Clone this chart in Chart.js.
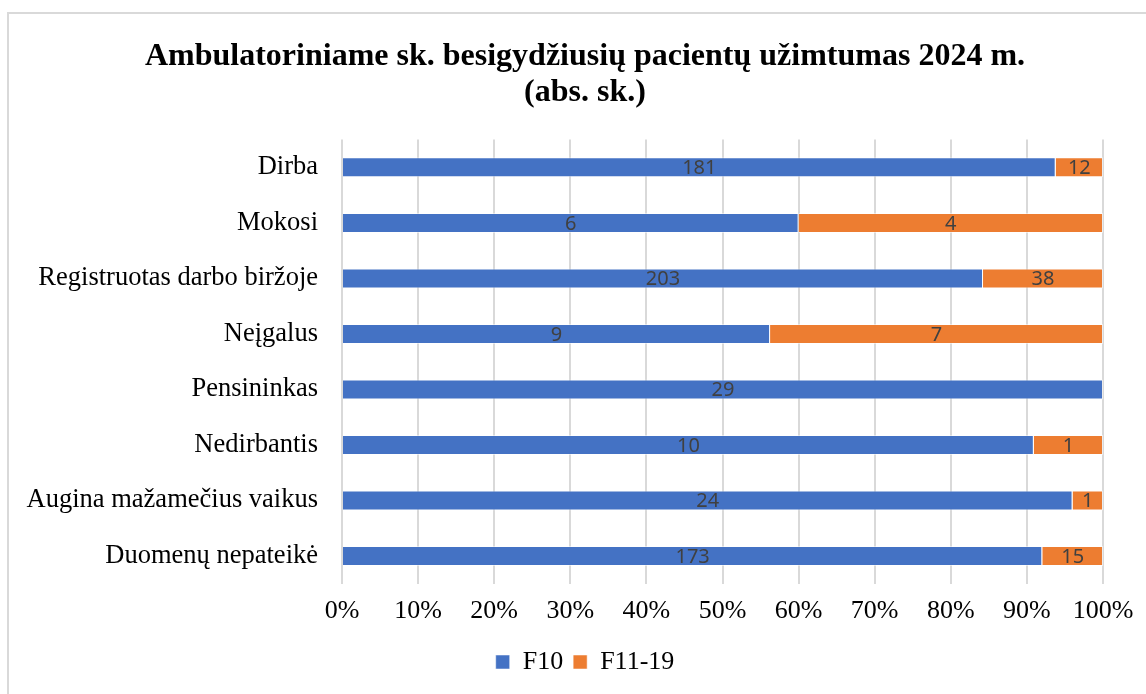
<!DOCTYPE html>
<html lang="lt">
<head>
<meta charset="utf-8">
<title>Ambulatoriniame sk. besigydžiusių pacientų užimtumas 2024 m.</title>
<script src="https://cdn.jsdelivr.net/npm/chart.js@4/dist/chart.umd.min.js"></script>
<style>
    html, body { margin: 0; padding: 0; background: #fff; overflow: hidden; }
    #frame {
        position: absolute; left: 7px; top: 12px; width: 1300px; height: 900px;
        border-left: 2px solid #d9d9d9; border-top: 2px solid #d9d9d9;
    }
    #wrap { position: absolute; left: 0; top: 0; width: 1170px; height: 694px; }
</style>
</head>
<body>
<div id="frame"></div>
<div id="wrap"><canvas id="uzimtumasChart"></canvas></div>
<script>
// Užimtumo grupės ir pacientų skaičiai pagal diagnozių grupes
const categories = [
    'Dirba', 'Mokosi', 'Registruotas darbo biržoje', 'Neįgalus',
    'Pensininkas', 'Nedirbantis', 'Augina mažamečius vaikus', 'Duomenų nepateikė'
];
const f10 = [181, 6, 203, 9, 29, 10, 24, 173];
const f1119 = [12, 4, 38, 7, 0, 1, 1, 15];
const xTicks = [0, 10, 20, 30, 40, 50, 60, 70, 80, 90, 100];

// 100 % sukrautai juostai – kiekvienos grupės dalis eilutėje
const totals = f10.map((v, i) => v + f1119[i]);
const share = arr => arr.map((v, i) => v / totals[i] * 100);

const serif = '"Liberation Serif", "Times New Roman", serif';

// Skaičiai juostų viduryje (absoliutūs)
const barLabels = {
    id: 'barLabels',
    afterDatasetsDraw(chart) {
        const ctx = chart.ctx;
        ctx.save();
        ctx.font = '20px "Noto Sans", "Liberation Sans", sans-serif';
        ctx.fillStyle = '#404040';
        ctx.textAlign = 'center';
        ctx.textBaseline = 'middle';
        chart.data.datasets.forEach((ds, di) => {
            chart.getDatasetMeta(di).data.forEach((bar, i) => {
                const raw = ds.raw[i];
                if (!raw) return;
                const x = (bar.x + bar.base) / 2;
                ctx.fillText(raw, x, bar.y + 1);
            });
        });
        ctx.restore();
    }
};

// ilgi kategorijų pavadinimai išeina už y ašies dėžutės – leidžiam piešti iki krašto
const wideLabels = {
    id: 'wideLabels',
    afterLayout(chart) {
        chart.scales.y.left = 0;
    }
};

const data = {
    labels: categories,
    datasets: [{
        label: 'F10',
        data: share(f10),
        raw: f10,
        backgroundColor: '#4472c4',
        borderColor: 'rgba(255,255,255,0.5)',
        borderWidth: 1
    }, {
        label: 'F11-19',
        data: share(f1119),
        raw: f1119,
        backgroundColor: '#ed7d31',
        borderColor: 'rgba(255,255,255,0.5)',
        borderWidth: 1
    }]
};

const config = {
    type: 'bar',
    data: data,
    plugins: [barLabels, wideLabels],
    options: {
        indexAxis: 'y',
        responsive: true,
        maintainAspectRatio: false,
        animation: false,
        layout: {
            padding: { left: 67, right: 67, top: 14, bottom: 9 }
        },
        datasets: {
            bar: { categoryPercentage: 1, barPercentage: 0.36 }
        },
        scales: {
            x: {
                stacked: true,
                min: 0,
                max: 100,
                afterBuildTicks: axis => { axis.ticks = xTicks.map(v => ({ value: v })); },
                grid: { color: '#d9d9d9', lineWidth: 2, drawTicks: false },
                border: { display: false },
                ticks: {
                    padding: 12,
                    color: '#000',
                    font: { family: serif, size: 26 },
                    callback: v => v + '%'
                }
            },
            y: {
                stacked: true,
                // kategorijų stulpelio plotis, kad pavadinimai baigtųsi ties 318 px
                afterFit: scale => { scale.width = 275; },
                grid: { display: false, drawTicks: false },
                border: { display: false },
                ticks: {
                    padding: 24,
                    color: '#000',
                    font: { family: serif, size: 26.5 }
                }
            }
        },
        plugins: {
            legend: {
                position: 'bottom',
                labels: {
                    boxWidth: 14,
                    boxHeight: 14,
                    padding: 10,
                    color: '#000',
                    font: { family: serif, size: 26 }
                }
            },
            title: {
                display: true,
                text: ['Ambulatoriniame sk. besigydžiusių pacientų užimtumas 2024 m.', '(abs. sk.)'],
                color: '#000',
                font: { family: serif, size: 32, weight: 'bold', lineHeight: 1.15 },
                padding: { top: 24, bottom: 28 }
            },
            tooltip: { enabled: false }
        }
    }
};

const ctx = document.getElementById('uzimtumasChart').getContext('2d');
const uzimtumasChart = new Chart(ctx, config);
</script>
</body>
</html>
